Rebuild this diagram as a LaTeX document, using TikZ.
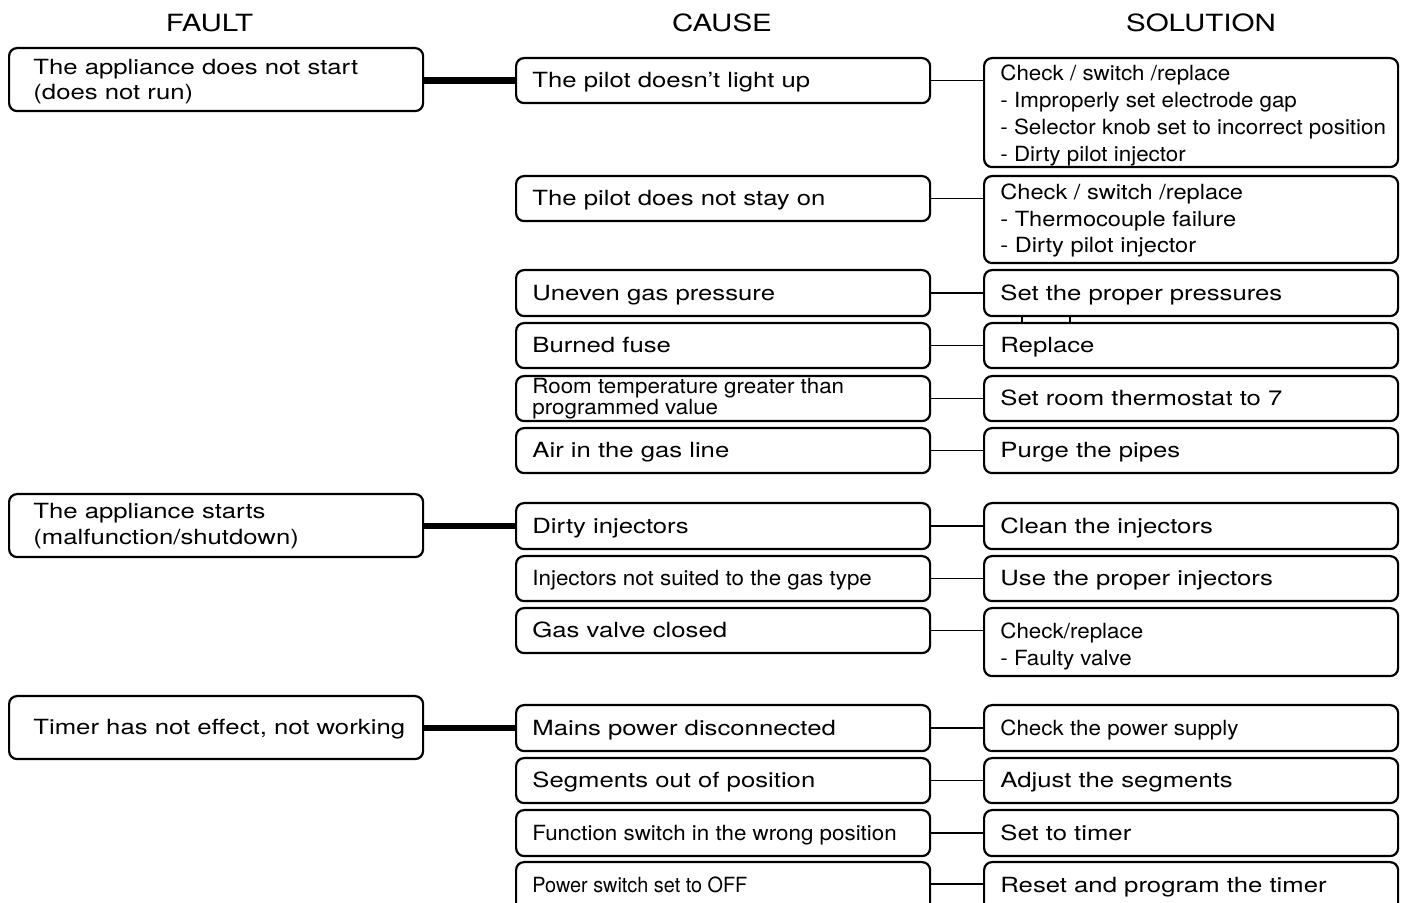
\documentclass[tikz,border=0pt]{standalone}
\usepackage{fontspec}
\setmainfont{TeX Gyre Heros}
\newfontfamily\fbig{TeX Gyre Heros}[FakeStretch=1.23]
\newfontfamily\fmid{TeX Gyre Heros}[FakeStretch=1.13]
\newfontfamily\fsml{TeX Gyre Heros}[FakeStretch=1.07]
\newfontfamily\fpow{TeX Gyre Heros}[FakeStretch=0.95]
\newfontfamily\fhead{TeX Gyre Heros}[FakeStretch=1.245]
\tikzset{
 bx/.style={draw, rounded corners=4pt, line width=1.1pt, minimum width=207pt, inner sep=0pt, anchor=north west},
 tbig/.style={font=\fbig\fontsize{10.45}{12.75}\selectfont, align=left, inner sep=0pt},
 tmid/.style={font=\fmid\fontsize{10.45}{13.25}\selectfont, align=left, inner sep=0pt},
 tsml/.style={font=\fsml\fontsize{10.45}{13.5}\selectfont, align=left, inner sep=0pt},
 ttight/.style={font=\fsml\fontsize{10.45}{10.5}\selectfont, align=left, inner sep=0pt},
 tpow/.style={font=\fpow\fontsize{10.45}{12}\selectfont, align=left, inner sep=0pt},
 head/.style={font=\fhead\fontsize{11.85}{14}\selectfont, inner sep=0pt, anchor=base},
 one/.style={anchor=mid west, yshift=-1pt},
 multi/.style={anchor=north west},
 flink/.style={line width=3.3pt},
 clink/.style={line width=0.8pt},
}
\newcommand\mybox[4]{\node[bx, minimum height={#4*0.5pt}] (#1) at (#2,#3) {};}
\newcommand\onel[4]{\node[#3, one] (#1t) at ([xshift=#2]#1.west) {#4};}
\begin{document}
\begin{tikzpicture}[x=0.5pt,y=-0.5pt]
\useasboundingbox (0,0) rectangle (1405,903);
\clip (0,0) rectangle (1405,903);
% headers
\node[head] (hf) at (209.5,31.8) {FAULT};
\node[head] (hc) at (722,31.8) {CAUSE};
\node[head] (hs) at (1201,31.8) {SOLUTION};
% faults
\mybox{f1}{8}{47}{63}
\mybox{f2}{8}{493}{63}
\mybox{f3}{8}{695}{63}
\node[tbig, multi] (f1t) at (33,58.5) {The appliance does not start\\(does not run)};
\node[tbig, multi] (f2t) at (33,503) {The appliance starts\\(malfunction/shutdown)};
\onel{f3}{12.5pt}{tbig}{Timer has not effect, not working}
% causes
\mybox{c1}{515}{57}{45}
\mybox{c2}{515}{175}{45}
\mybox{c3}{515}{269}{46}
\mybox{c4}{515}{322}{45}
\mybox{c5}{515}{375}{45}
\mybox{c6}{515}{427}{45}
\mybox{c7}{515}{502}{46}
\mybox{c8}{515}{555}{45}
\mybox{c9}{515}{607}{45}
\mybox{c10}{515}{704}{46}
\mybox{c11}{515}{757}{45}
\mybox{c12}{515}{809}{46}
\mybox{c13}{515}{861}{50}
\onel{c1}{8.5pt}{tbig}{The pilot doesn’t light up}
\onel{c2}{8.5pt}{tbig}{The pilot does not stay on}
\onel{c3}{8.5pt}{tbig}{Uneven gas pressure}
\onel{c4}{8.5pt}{tbig}{Burned fuse}
\node[ttight, multi] (c5t) at (532,378) {Room temperature greater than\\programmed value};
\onel{c6}{8.5pt}{tbig}{Air in the gas line}
\onel{c7}{8.5pt}{tbig}{Dirty injectors}
\onel{c8}{8.5pt}{tsml}{Injectors not suited to the gas type}
\onel{c9}{8.5pt}{tbig}{Gas valve closed}
\onel{c10}{8.5pt}{tbig}{Mains power disconnected}
\onel{c11}{8.5pt}{tbig}{Segments out of position}
\onel{c12}{8.5pt}{tsml}{Function switch in the wrong position}
\node[tpow, one] (c13t) at (532,885.5) {Power switch set to OFF};
% solutions
\mybox{s1}{983}{57}{109}
\mybox{s2}{983}{175}{87}
\mybox{s3}{983}{269}{46}
\mybox{s4}{983}{322}{45}
\mybox{s5}{983}{375}{45}
\mybox{s6}{983}{427}{45}
\mybox{s7}{983}{502}{46}
\mybox{s8}{983}{555}{45}
\mybox{s9}{983}{607}{68}
\mybox{s10}{983}{704}{46}
\mybox{s11}{983}{757}{45}
\mybox{s12}{983}{809}{46}
\mybox{s13}{983}{861}{50}
\node[tsml, multi] (s1t) at (1000,64.5) {Check / switch /replace\\- Improperly set electrode gap\\- Selector knob set to incorrect position\\- Dirty pilot injector};
\node[tmid, multi] (s2t) at (1000,183.5) {Check / switch /replace\\- Thermocouple failure\\- Dirty pilot injector};
\onel{s3}{8.5pt}{tbig}{Set the proper pressures}
\onel{s4}{8.5pt}{tbig}{Replace}
\onel{s5}{8.5pt}{tbig}{Set room thermostat to 7}
\onel{s6}{8.5pt}{tbig}{Purge the pipes}
\onel{s7}{8.5pt}{tbig}{Clean the injectors}
\onel{s8}{8.5pt}{tbig}{Use the proper injectors}
\node[tsml, multi] (s9t) at (1000,622) {Check/replace\\- Faulty valve};
\onel{s10}{8.5pt}{tsml}{Check the power supply}
\onel{s11}{8.5pt}{tbig}{Adjust the segments}
\onel{s12}{8.5pt}{tbig}{Set to timer}
\node[tbig, one] (s13t) at (1000,885) {Reset and program the timer};
% fault links
\draw[flink] (c1.west -| f1.east) -- (c1.west);
\draw[flink] (c7.west -| f2.east) -- (c7.west);
\draw[flink] (c10.west -| f3.east) -- (c10.west);
% cause-solution links
\foreach \i in {1,...,12} {\draw[clink] (c\i.east) -- (c\i.east -| s\i.west);}
\draw[clink] (c13.east |- 0,884) -- (s13.west |- 0,884);
% stray mark
\draw[clink] (1022,322) -- (1022,316) -- (1070,316) -- (1070,322);
\end{tikzpicture}
\end{document}
